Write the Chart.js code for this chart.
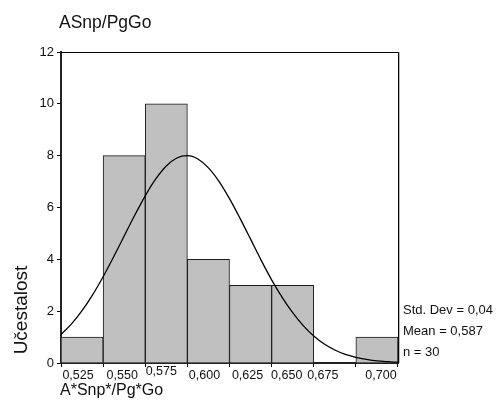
<!DOCTYPE html>
<html>
<head>
<meta charset="utf-8">
<script src="https://cdn.jsdelivr.net/npm/chart.js@4/dist/chart.umd.min.js"></script>
<style>
  body { margin: 0; background: #fff; }
  canvas { display: block; }
</style>
</head>
<body>
<canvas id="hist" width="496" height="408"></canvas>
<script>
// histogram bins (centre of each bin) and counts
const binCenters = [0.525, 0.55, 0.575, 0.6, 0.625, 0.65, 0.675, 0.7];
const counts = [1, 8, 10, 4, 3, 3, 0, 1];
const binLabels = ["0,525", "0,550", "0,575", "0,600", "0,625", "0,650", "0,675", "0,700"];
const yTickValues = [0, 2, 4, 6, 8, 10, 12];

// fitted normal curve, sampled every 0.00625
const curveX = [0.5125, 0.51875, 0.525, 0.53125, 0.5375, 0.54375, 0.55, 0.55625, 0.5625,
  0.56875, 0.575, 0.58125, 0.5875, 0.59375, 0.6, 0.60625, 0.6125, 0.61875, 0.625,
  0.63125, 0.6375, 0.64375, 0.65, 0.65625, 0.6625, 0.66875, 0.675, 0.68125, 0.6875,
  0.69375, 0.7, 0.70625, 0.7125];
const curveY = [1.10, 1.51, 2.02, 2.63, 3.33, 4.10, 4.90, 5.70, 6.45,
  7.10, 7.60, 7.91, 8.00, 7.87, 7.53, 7.01, 6.34, 5.58, 4.78,
  3.97, 3.21, 2.53, 1.94, 1.44, 1.04, 0.73, 0.50, 0.33, 0.22,
  0.14, 0.08, 0.05, 0.03];

const chartTitle = "ASnp/PgGo";
const xTitle = "A*Snp*/Pg*Go";
const yTitle = "Učestalost";
const statsLines = ["Std. Dev = 0,04", "Mean = 0,587", "n = 30"];

const FONT = "'Liberation Sans', Arial, sans-serif";

// small nudges so the bin labels don't collide (like the original output)
const labelNudgeX = [-4, -2, -5, -4, -3, -6, -12, 4];
const labelNudgeY = [0, 0, -4, 0, 0, 0, 0, 0];

const textPlugin = {
  id: "histText",
  afterDraw(chart) {
    const ctx = chart.ctx;
    const area = chart.chartArea;
    const xs = chart.scales.x;
    ctx.save();

    // top and right frame
    ctx.strokeStyle = "#000";
    ctx.lineWidth = 1;
    ctx.beginPath();
    ctx.moveTo(area.left, area.top + 0.5);
    ctx.lineTo(area.right + 0.5, area.top + 0.5);
    ctx.lineTo(area.right + 0.5, area.bottom);
    ctx.stroke();
    ctx.strokeStyle = "#bbb";
    ctx.beginPath();
    ctx.moveTo(area.right + 1.5, area.top);
    ctx.lineTo(area.right + 1.5, area.bottom);
    ctx.stroke();

    ctx.fillStyle = "#111";

    // title
    ctx.font = "17.5px " + FONT;
    ctx.textAlign = "left";
    ctx.textBaseline = "middle";
    ctx.fillText(chartTitle, 59, 23);

    // bin labels
    ctx.font = "12.5px " + FONT;
    ctx.textAlign = "center";
    binLabels.forEach((lab, i) => {
      const px = xs.getPixelForValue(binCenters[i]);
      ctx.fillText(lab, px + labelNudgeX[i], area.bottom + 13 + labelNudgeY[i]);
    });

    // axis titles
    ctx.font = "16px " + FONT;
    ctx.textAlign = "left";
    ctx.fillText(xTitle, 60, area.bottom + 28);

    ctx.save();
    ctx.translate(22, 310);
    ctx.rotate(-Math.PI / 2);
    ctx.font = "19px " + FONT;
    ctx.textAlign = "center";
    ctx.fillText(yTitle, 0, 0);
    ctx.restore();

    // statistics
    ctx.font = "13px " + FONT;
    ctx.textAlign = "left";
    statsLines.forEach((line, i) => {
      ctx.fillText(line, area.right + 5, 310 + i * 21);
    });

    ctx.restore();
  }
};

const ctx = document.getElementById("hist").getContext("2d");

new Chart(ctx, {
  type: "bar",
  data: {
    datasets: [
      {
        type: "line",
        data: curveX.map((x, i) => ({ x: x, y: curveY[i] })),
        borderColor: "#000",
        borderWidth: 1.3,
        pointRadius: 0,
        cubicInterpolationMode: "monotone",
        fill: false,
        order: 0,
      },
      {
        data: binCenters.map((x, i) => ({ x: x, y: counts[i] })),
        backgroundColor: "#c0c0c0",
        borderColor: "#1a1a1a",
        borderWidth: 1,
        barPercentage: 1,
        categoryPercentage: 1,
        order: 1,
      },
    ],
  },
  options: {
    responsive: false,
    animation: false,
    devicePixelRatio: 1,
    layout: {
      padding: { top: 52, right: 98, left: 0, bottom: 0 },
    },
    plugins: {
      legend: { display: false },
      tooltip: { enabled: false },
    },
    scales: {
      x: {
        type: "linear",
        offset: false,
        min: 0.5125,
        max: 0.7125,
        afterBuildTicks: (scale) => {
          scale.ticks = binCenters.map((v) => ({ value: v }));
        },
        afterFit: (scale) => {
          scale.height = 45;
        },
        ticks: { display: false },
        grid: {
          drawOnChartArea: false,
          drawTicks: true,
          tickLength: 4,
          color: "#000",
        },
        border: { color: "#222", width: 2 },
      },
      y: {
        min: 0,
        max: 12,
        afterBuildTicks: (scale) => {
          scale.ticks = yTickValues.map((v) => ({ value: v }));
        },
        afterFit: (scale) => {
          scale.width = 61;
        },
        ticks: {
          color: "#111",
          padding: 3,
          font: { size: 13, family: FONT },
        },
        grid: {
          drawOnChartArea: false,
          tickLength: 4,
          color: "#000",
        },
        border: { color: "#222", width: 2 },
      },
    },
  },
  plugins: [textPlugin],
});
</script>
</body>
</html>
